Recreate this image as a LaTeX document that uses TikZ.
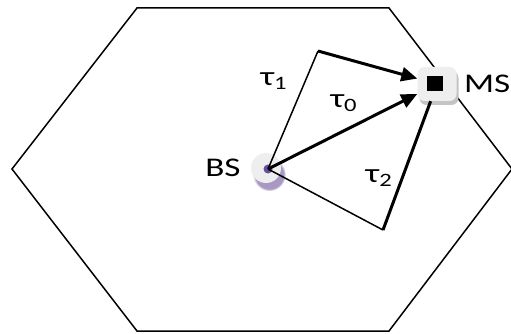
\documentclass[tikz,border=0pt]{standalone}
\usepackage{fontspec}
\setmainfont{Carlito}
\usepackage{graphicx}
\usetikzlibrary{arrows.meta,shadows}
\newcommand{\wide}[1]{\scalebox{1.3}[1]{#1}}
\definecolor{bspurple}{HTML}{6A4E9E}
\definecolor{bsshade}{HTML}{A799C2}
\definecolor{devgrey}{HTML}{EEEEEE}
\definecolor{msshade}{HTML}{C4C4C4}
\tikzset{
  cell/.style={line width=1.5pt, line join=miter},
  ray/.style={line width=1.5pt, line join=miter},
  ray thick/.style={line width=3pt},
  ray arr/.style={ray thick, -{Triangle[length=16pt, width=14pt]}},
  lbl/.style={font=\fontsize{27}{32}\selectfont, inner sep=0pt},
  bs dev/.style={circle, fill=devgrey, minimum size=30pt, inner sep=0pt,
                 circular drop shadow={shadow xshift=3pt, shadow yshift=-6pt, fill=bsshade, opacity=1}},
  bs dot/.style={circle, fill=bspurple, minimum size=9pt, inner sep=0pt},
  ms dev/.style={rectangle, rounded corners=7pt, fill=devgrey, minimum width=39pt, minimum height=34pt, inner sep=0pt,
                 drop shadow={shadow xshift=2pt, shadow yshift=-4pt, fill=msshade, opacity=1}},
  ms dot/.style={rectangle, fill=black, minimum width=16pt, minimum height=15pt, inner sep=0pt},
}
\begin{document}
\begin{tikzpicture}[x=1pt, y=-1pt]
  \useasboundingbox (0,0) rectangle (511,334);
  % the cell
  \draw[cell] (12,169) -- (137,8) -- (389,8) -- (512,169) -- (389,331) -- (137,331) -- cycle;
  % base station and mobile
  \node[bs dev] (BS) at (266,168) {};
  \node[bs dot] (bsd) at (268,169) {};
  \node[ms dev] (MS) at (437,84) {};
  \node[ms dot] (msd) at (435,84) {};
  % reflection points
  \coordinate (r1) at (318,51);
  \coordinate (r2) at (383,230);
  % paths
  \draw[ray] (bsd.center) -- (r1);
  \draw[ray arr] (r1) -- (MS);
  \draw[ray arr] (bsd.center) -- (MS);
  \draw[ray] (bsd.center) -- (r2);
  \draw[ray thick] (r2) -- (MS);
  % labels
  \node[lbl] (bsl) at (223,168) {\wide{BS}};
  \node[lbl, anchor=west] (msl) at (464,84) {\wide{MS}};
  \node[lbl] (t1) at (274,81) {\wide{τ\textsubscript{1}}};
  \node[lbl] (t0) at (344,103) {\wide{τ\textsubscript{0}}};
  \node[lbl] (t2) at (379,178) {\wide{τ\textsubscript{2}}};
\end{tikzpicture}
\end{document}
